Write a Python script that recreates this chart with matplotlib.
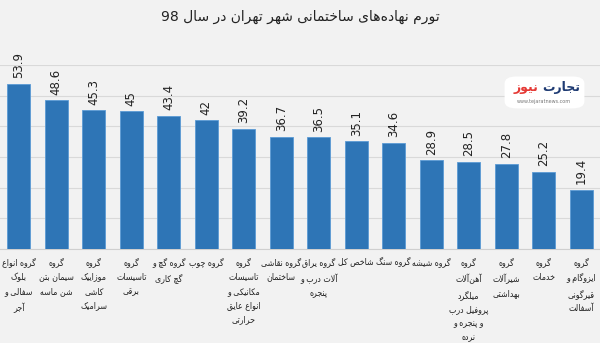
import re
import matplotlib
matplotlib.use("Agg")
import matplotlib.pyplot as plt
import matplotlib.transforms as mtransforms
from matplotlib.patches import FancyBboxPatch

# داده‌ها
values = [53.9, 48.6, 45.3, 45, 43.4, 42, 39.2, 36.7, 36.5, 35.1, 34.6, 28.9, 28.5, 27.8, 25.2, 19.4]
value_labels = ["53.9", "48.6", "45.3", "45", "43.4", "42", "39.2", "36.7", "36.5",
                "35.1", "34.6", "28.9", "28.5", "27.8", "25.2", "19.4"]
categories = [
    "گروه انواع\nبلوک\nسفالی و\nآجر",
    "گروه\nسیمان بتن\nشن ماسه",
    "گروه\nموزاییک\nکاشی\nسرامیک",
    "گروه\nتاسیسات\nبرقی",
    "گروه گچ و\nگچ کاری",
    "گروه چوب",
    "گروه\nتاسیسات\nمکانیکی و\nانواع عایق\nحرارتی",
    "گروه نقاشی\nساختمان",
    "گروه یراق\nآلات درب و\nپنجره",
    "شاخص کل",
    "گروه سنگ",
    "گروه شیشه",
    "گروه\nآهن\u200cآلات\nمیلگرد\nپروفیل درب\nو پنجره و\nنرده",
    "گروه\nشیرآلات\nبهداشتی",
    "گروه\nخدمات",
    "گروه\nایزوگام و\nقیرگونی\nآسفالت",
]
title = "تورم نهاده\u200cهای ساختمانی شهر تهران در سال 98"

# شکل‌دهی ساده حروف فارسی (matplotlib خودش اتصال حروف را انجام نمی‌دهد)
FORMS = {
    "ا": (0xFE8D, 0xFE8E, None, None), "آ": (0xFE81, 0xFE82, None, None),
    "ب": (0xFE8F, 0xFE90, 0xFE91, 0xFE92), "پ": (0xFB56, 0xFB57, 0xFB58, 0xFB59),
    "ت": (0xFE95, 0xFE96, 0xFE97, 0xFE98), "ث": (0xFE99, 0xFE9A, 0xFE9B, 0xFE9C),
    "ج": (0xFE9D, 0xFE9E, 0xFE9F, 0xFEA0), "چ": (0xFB7A, 0xFB7B, 0xFB7C, 0xFB7D),
    "ح": (0xFEA1, 0xFEA2, 0xFEA3, 0xFEA4), "خ": (0xFEA5, 0xFEA6, 0xFEA7, 0xFEA8),
    "د": (0xFEA9, 0xFEAA, None, None), "ذ": (0xFEAB, 0xFEAC, None, None),
    "ر": (0xFEAD, 0xFEAE, None, None), "ز": (0xFEAF, 0xFEB0, None, None),
    "ژ": (0xFB8A, 0xFB8B, None, None),
    "س": (0xFEB1, 0xFEB2, 0xFEB3, 0xFEB4), "ش": (0xFEB5, 0xFEB6, 0xFEB7, 0xFEB8),
    "ص": (0xFEB9, 0xFEBA, 0xFEBB, 0xFEBC), "ض": (0xFEBD, 0xFEBE, 0xFEBF, 0xFEC0),
    "ط": (0xFEC1, 0xFEC2, 0xFEC3, 0xFEC4), "ظ": (0xFEC5, 0xFEC6, 0xFEC7, 0xFEC8),
    "ع": (0xFEC9, 0xFECA, 0xFECB, 0xFECC), "غ": (0xFECD, 0xFECE, 0xFECF, 0xFED0),
    "ف": (0xFED1, 0xFED2, 0xFED3, 0xFED4), "ق": (0xFED5, 0xFED6, 0xFED7, 0xFED8),
    "ک": (0xFB8E, 0xFB8F, 0xFB90, 0xFB91), "گ": (0xFB92, 0xFB93, 0xFB94, 0xFB95),
    "ل": (0xFEDD, 0xFEDE, 0xFEDF, 0xFEE0), "م": (0xFEE1, 0xFEE2, 0xFEE3, 0xFEE4),
    "ن": (0xFEE5, 0xFEE6, 0xFEE7, 0xFEE8), "و": (0xFEED, 0xFEEE, None, None),
    "ه": (0xFEE9, 0xFEEA, 0xFEEB, 0xFEEC), "ی": (0xFBFC, 0xFBFD, 0xFBFE, 0xFBFF),
}
LAM_ALEF = {"ا": (0xFEFB, 0xFEFC), "آ": (0xFEF5, 0xFEF6)}


def shape(s):
    out = []
    i = 0
    n = len(s)
    while i < n:
        c = s[i]
        if c not in FORMS:
            if c != "\u200c":
                out.append(c)
            i += 1
            continue
        prev = s[i - 1] if i > 0 else ""
        join_prev = prev in FORMS and FORMS[prev][2] is not None
        if c == "ل" and i + 1 < n and s[i + 1] in LAM_ALEF:
            iso, fin = LAM_ALEF[s[i + 1]]
            out.append(chr(fin if join_prev else iso))
            i += 2
            continue
        nxt = s[i + 1] if i + 1 < n else ""
        join_next = FORMS[c][2] is not None and nxt in FORMS
        iso, fin, ini, med = FORMS[c]
        if join_prev and join_next:
            code = med
        elif join_prev:
            code = fin
        elif join_next:
            code = ini
        else:
            code = iso
        out.append(chr(code))
        i += 1
    return "".join(out)


def fa(text):
    lines = []
    for line in text.split("\n"):
        vis = shape(line)[::-1]
        vis = re.sub(r"[0-9.]+", lambda m: m.group()[::-1], vis)
        lines.append(vis)
    return "\n".join(lines)


bg = "#f2f2f2"
plt.rcParams["font.family"] = ["DejaVu Sans"]

fig = plt.figure(figsize=(6, 3.43), dpi=100, facecolor=bg)
ax = fig.add_axes([0.0, 0.274, 1.0, 0.536], facecolor=bg)

x = range(len(values))
bars = ax.bar(x, values, width=0.62, color="#2e75b6", edgecolor="#5b9bd5", linewidth=0.6, zorder=3)

# برچسب مقادیر (عمودی)
lift = mtransforms.offset_copy(ax.transData, fig=fig, x=0, y=4, units="points")
for i, v in enumerate(values):
    fig.text(i, v, value_labels[i], transform=lift, rotation=90,
             ha="center", va="bottom", fontsize=8.5, color="#222222")

ax.set_xlim(-0.5, len(values) - 0.5)
ax.set_ylim(0, 60)
ax.set_yticks(range(0, 61, 10))
ax.yaxis.grid(True, color="#d9d9d9", linewidth=0.8, zorder=0)
ax.tick_params(axis="y", length=0, labelleft=False)
ax.set_xticks(list(x))
ax.set_xticklabels([fa(c) for c in categories], fontsize=6.3, linespacing=1.75,
                   color="#222222", va="top", ha="center",
                   family=["DejaVu Sans Condensed", "DejaVu Sans"], stretch="condensed")
ax.tick_params(axis="x", length=0, pad=6)
for side in ["top", "left", "right"]:
    ax.spines[side].set_visible(False)
ax.spines["bottom"].set_color("#cfcfcf")

fig.text(0.5, 0.95, fa(title), ha="center", va="center", fontsize=10, color="#222222")

# لوگو
logo = FancyBboxPatch((0.845, 0.688), 0.125, 0.085, boxstyle="round,pad=0.004,rounding_size=0.02",
                      transform=fig.transFigure, facecolor="white", edgecolor="none", zorder=5)
fig.patches.append(logo)
fig.text(0.935, 0.745, fa("تجارت"), ha="center", va="center", fontsize=9, fontweight="bold",
         color="#1f3b73", zorder=6)
fig.text(0.876, 0.745, fa("نیوز"), ha="center", va="center", fontsize=9, fontweight="bold",
         color="#e53935", zorder=6)
fig.text(0.907, 0.705, "www.tejaratnews.com", ha="center", va="center", fontsize=3.5,
         color="#777777", zorder=6)

fig.savefig("out.png", dpi=100, facecolor=bg)
